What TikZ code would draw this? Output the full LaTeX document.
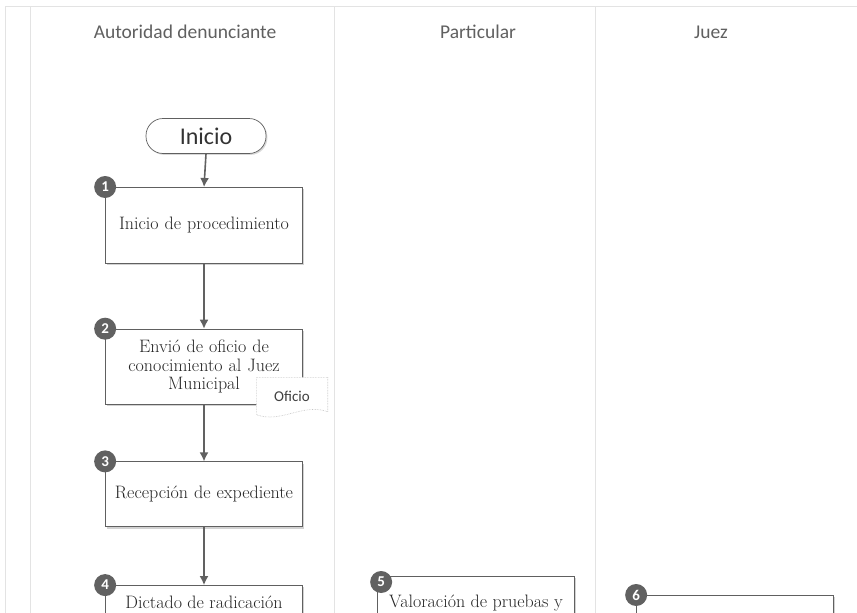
\documentclass[tikz,border=0pt]{standalone}
\usepackage{fontspec}
\newfontfamily\lanefont{Carlito}
\usetikzlibrary{shapes,arrows,arrows.meta,shadows,positioning}
\pgfdeclarelayer{foreground}
\pgfsetlayers{main,foreground}

\begin{document}
\begin{tikzpicture}[x=1pt,y=-1pt]
	\tikzstyle{lane} = [draw=gray!22, line width=0.6pt]
	\tikzstyle{lanetitle} = [font=\lanefont\fontsize{19.5}{22}\selectfont, text=gray!75!black]
	\tikzstyle{stepbox} = [rectangle, draw=gray!75!black, line width=0.7pt, fill=white, drop shadow={shadow xshift=1.8pt, shadow yshift=-1.8pt, opacity=0.35}, minimum width=197pt, text width=193pt, align=center, inner sep=2pt, font=\fontsize{18}{18.8}\selectfont, text=black!85]
	\tikzstyle{boxtext} = [font=\fontsize{18}{18.8}\selectfont, text=black!85]
	\tikzstyle{terminal} = [rectangle, rounded corners=17pt, draw=gray!75!black, line width=0.7pt, fill=white, drop shadow={shadow xshift=1.4pt, shadow yshift=-1.4pt, opacity=0.3}, minimum width=120pt, minimum height=35pt, font=\lanefont\fontsize{24}{26}\selectfont, text=black!80]
	\tikzstyle{badge} = [circle, fill=black!62, text=white, minimum size=22pt, inner sep=0pt, font=\lanefont\bfseries\fontsize{15}{15}\selectfont]
	\tikzstyle{docline} = [draw=gray!50, densely dotted, line width=0.6pt, fill=white]
	\tikzstyle{flow} = [-{Latex[length=9pt,width=9pt]}, line width=1.6pt, draw=black!62]
	
	\clip (0,0) rectangle (857,613);
	\fill[white] (0,0) rectangle (857,613);
	
	% lanes
	\draw[lane] (5,6) -- (857,6);
	\draw[lane] (5,6) -- (5,613);
	\draw[lane] (30,6) -- (30,613);
	\draw[lane] (334,6) -- (334,613);
	\draw[lane] (595,6) -- (595,613);
	\node[lanetitle] (autoridad) at (185,32) {Autoridad denunciante};
	\node[lanetitle] (particular) at (478,32) {Particular};
	\node[lanetitle] (juez) at (711,32) {Juez};
	
	\node[terminal] (inicio) at (206,136) {Inicio};
	\node[stepbox, minimum height=76pt, anchor=north] (proc1) at (204,187) {Inicio de procedimiento};
	\node[stepbox, minimum height=75pt, below=65pt of proc1] (proc2) {Envió de oficio de\\conocimiento al Juez\\Municipal};
	\node[stepbox, minimum height=65pt, below=57pt of proc2] (proc3) {Recepción de expediente};
	\node[stepbox, minimum height=70pt, below=58pt of proc3] (proc4) {};
	\node[boxtext] (t4a) at ([yshift=-17pt]proc4.north) {Dictado de radicación};
	
	\node[stepbox, minimum height=70pt, anchor=north] (proc5) at (476,576) {};
	\node[boxtext] (t5a) at ([yshift=-27pt]proc5.north) {Valoración de pruebas y};
	\node[stepbox, minimum height=70pt, anchor=north] (proc6) at (735,595) {};
	
	% oficio
	\begin{pgfonlayer}{foreground}
	\node[font=\lanefont\fontsize{15}{17}\selectfont, text=black!75, minimum width=71pt, minimum height=37pt] (oficio) at (292,396) {Oficio};
	\end{pgfonlayer}
	\draw[docline] (oficio.south west) -- (oficio.north west) -- (oficio.north east) -- ([yshift=3pt]oficio.south east)
	.. controls ([xshift=-25pt,yshift=12pt]oficio.south east) and ([xshift=25pt,yshift=-9pt]oficio.south west) .. (oficio.south west);
	
	\node[badge] (n1) at (proc1.north west) {1};
	\node[badge] (n2) at (proc2.north west) {2};
	\node[badge] (n3) at (proc3.north west) {3};
	\node[badge] (n4) at (proc4.north west) {4};
	\node[badge] (n5) at ([xshift=4pt,yshift=-6pt]proc5.north west) {5};
	\node[badge] (n6) at (proc6.north west) {6};
	
	\draw[flow] (inicio.south) -- (proc1.north);
	\draw[flow] (proc1) -- (proc2);
	\draw[flow] (proc2) -- (proc3);
	\draw[flow] (proc3) -- (proc4);
	
\end{tikzpicture}
\end{document}
